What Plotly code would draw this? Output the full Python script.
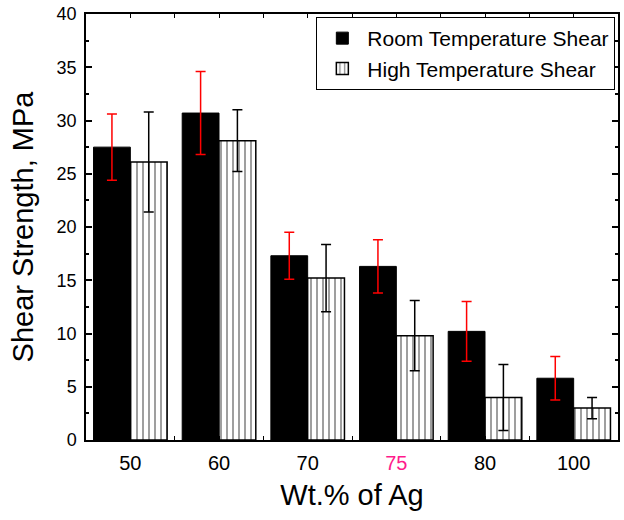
import plotly.graph_objects as go

categories = ["50", "60", "70", "75", "80", "100"]
room_vals = [27.5, 30.7, 17.3, 16.3, 10.2, 5.8]
room_err = [3.1, 3.9, 2.2, 2.5, 2.8, 2.05]
high_vals = [26.1, 28.1, 15.2, 9.8, 4.0, 3.0]
high_err = [4.7, 2.9, 3.15, 3.3, 3.1, 1.0]
highlight = "75"

xpos = list(range(len(categories)))

fig = go.Figure()
fig.add_trace(go.Bar(
    x=xpos, y=room_vals, name="Room Temperature Shear",
    marker=dict(color="black", line=dict(color="black", width=1)),
    error_y=dict(type="data", array=room_err, color="red", thickness=1.5, width=5),
))
fig.add_trace(go.Bar(
    x=xpos, y=high_vals, name="High Temperature Shear",
    marker=dict(color="white", line=dict(color="black", width=1.5),
                pattern=dict(shape="|", fgcolor="black", bgcolor="white", size=6, solidity=0.25)),
    error_y=dict(type="data", array=high_err, color="black", thickness=1.5, width=5),
))

tickvals = []
ticktext = []
for i, c in enumerate(categories):
    tickvals += [i - 0.5, i]
    if c == highlight:
        ticktext += ["", '<span style="color:#ff1a8c">' + c + "</span>"]
    else:
        ticktext += ["", c]
tickvals.append(len(categories) - 0.5)
ticktext.append("")

font = "Liberation Sans, Arial, sans-serif"
fig.update_layout(
    width=624, height=520,
    margin=dict(l=86, r=4, t=14, b=80),
    paper_bgcolor="white", plot_bgcolor="white",
    barmode="group", bargap=0.17, bargroupgap=0,
    font=dict(family=font, color="black", size=18),
    showlegend=True,
    legend=dict(x=0.995, y=0.993, xanchor="right", yanchor="top",
                bgcolor="white", bordercolor="black", borderwidth=1,
                font=dict(size=21, family=font), itemwidth=40,
                tracegroupgap=0),
    xaxis=dict(
        range=[-0.5, len(categories) - 0.5],
        tickmode="array", tickvals=tickvals, ticktext=ticktext,
        ticks="inside", ticklen=4, tickwidth=1, tickcolor="black",
        showline=True, linecolor="black", linewidth=1.5, mirror="ticks",
        showgrid=False, zeroline=False,
        title=dict(text="Wt.% of Ag", font=dict(size=29, family=font), standoff=12),
        tickfont=dict(size=20, family=font),
        ticklabelstandoff=4,
    ),
    yaxis=dict(
        range=[0, 40], dtick=5, tick0=0,
        ticks="inside", ticklen=6, tickwidth=1.5, tickcolor="black",
        minor=dict(ticks="inside", ticklen=3, dtick=2.5, tickcolor="black", showgrid=False),
        showline=True, linecolor="black", linewidth=1.5, mirror="ticks",
        showgrid=False, zeroline=False,
        title=dict(text="Shear Strength, MPa", font=dict(size=29, family=font), standoff=14),
        tickfont=dict(size=18, family=font),
        ticklabelstandoff=4,
    ),
)

fig.write_html("out.html")
